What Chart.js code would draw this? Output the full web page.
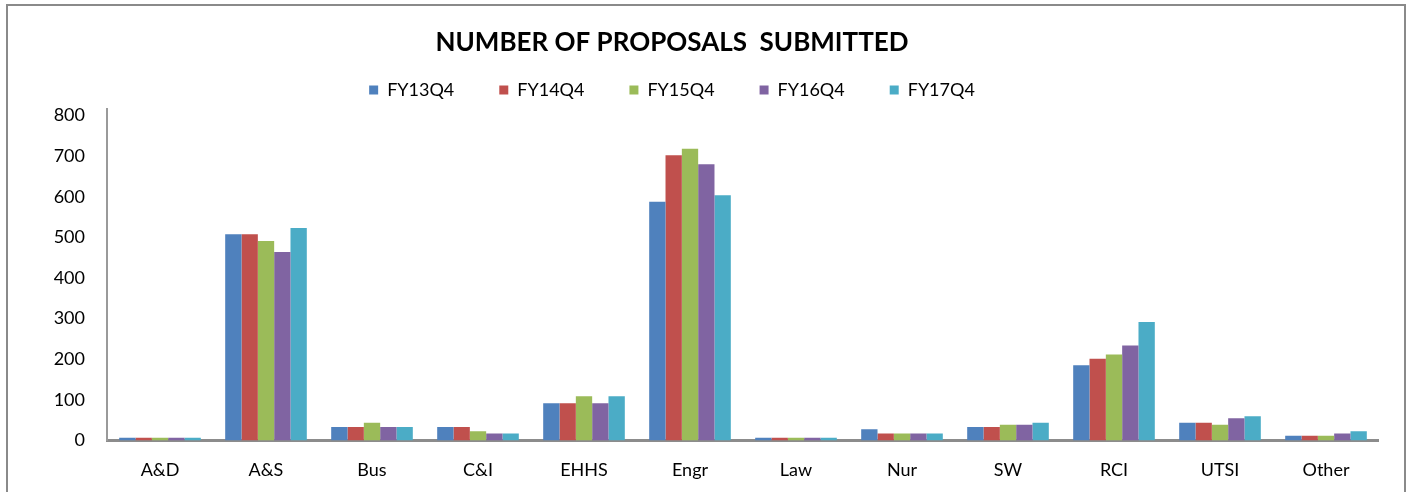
<!DOCTYPE html>
<html>
<head>
<meta charset="utf-8">
<script src="https://cdn.jsdelivr.net/npm/chart.js@4"></script>
<style>
  html, body { margin: 0; padding: 0; background: #fff; overflow: hidden; }
  #wrap { position: relative; width: 1408px; height: 492px; overflow: hidden; }
  #box { position: absolute; left: -35px; top: 0; width: 1414px; height: 492px; }
  #frame { position: absolute; left: 6px; top: 4px; width: 1396px; height: 600px;
           border: 2px solid #8a8a8a; pointer-events: none; }
</style>
</head>
<body>
<div id="wrap">
  <div id="box"><canvas id="grafico" width="1414" height="492"></canvas></div>
  <div id="frame"></div>
</div>
<script>
const colleges = ['A&D', 'A&S', 'Bus', 'C&I', 'EHHS', 'Engr', 'Law', 'Nur', 'SW', 'RCI', 'UTSI', 'Other'];
const fy13q4 = [7, 508, 33, 33, 92, 588, 7, 28, 33, 185, 44, 12];
const fy14q4 = [7, 508, 33, 33, 92, 702, 7, 17, 33, 201, 44, 12];
const fy15q4 = [7, 491, 44, 23, 109, 718, 7, 17, 39, 212, 39, 12];
const fy16q4 = [7, 464, 33, 17, 92, 680, 7, 17, 39, 234, 55, 17];
const fy17q4 = [7, 523, 33, 17, 109, 604, 7, 17, 44, 292, 60, 23];
const yTicks = [0, 100, 200, 300, 400, 500, 600, 700, 800];

const series = [
  { label: 'FY13Q4', data: fy13q4, color: '#4f81bd' },
  { label: 'FY14Q4', data: fy14q4, color: '#c0504d' },
  { label: 'FY15Q4', data: fy15q4, color: '#9bbb59' },
  { label: 'FY16Q4', data: fy16q4, color: '#8064a2' },
  { label: 'FY17Q4', data: fy17q4, color: '#4bacc6' }
];

Chart.defaults.font.family = 'Lato, "Open Sans", sans-serif';
Chart.defaults.color = '#000';

new Chart(document.getElementById('grafico'), {
  type: 'bar',
  data: {
    labels: colleges,
    datasets: series.map(s => ({
      label: s.label,
      data: s.data,
      backgroundColor: s.color,
      borderWidth: 0,
      categoryPercentage: 0.77,
      barPercentage: 1.0
    }))
  },
  options: {
    responsive: false,
    animation: false,
    devicePixelRatio: 1,
    layout: { padding: 0 },
    plugins: {
      title: {
        display: true,
        text: 'NUMBER OF PROPOSALS  SUBMITTED',
        font: { size: 26, weight: 'bold', lineHeight: 0 },
        color: '#000',
        padding: { top: 43, bottom: -7 }
      },
      legend: {
        display: true,
        position: 'top',
        labels: {
          boxWidth: 9,
          boxHeight: 9,
          padding: 45,
          font: { size: 18 },
          color: '#000'
        }
      },
      tooltip: { enabled: false }
    },
    scales: {
      x: {
        grid: { display: false, drawTicks: false },
        border: { display: true, color: '#8c8c8c', width: 3 },
        ticks: { font: { size: 18 }, padding: 19, color: '#000', maxRotation: 0 },
        afterFit: s => { s.height = 51.5; }
      },
      y: {
        min: 0,
        max: 816,
        afterBuildTicks: s => { s.ticks = yTicks.map(v => ({ value: v })); },
        grid: { display: false, drawTicks: false },
        border: { display: true, color: '#9a9a9a', width: 2 },
        ticks: { font: { size: 18 }, padding: 22, color: '#000' },
        afterFit: s => { s.width = 142; }
      }
    }
  }
});
</script>
</body>
</html>
